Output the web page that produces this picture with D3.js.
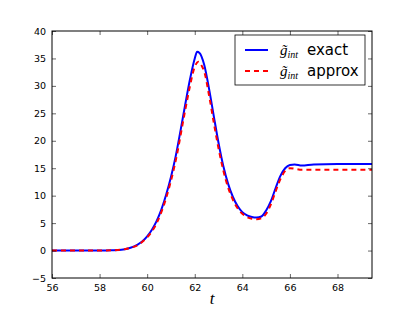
<!DOCTYPE html>
<html><head><meta charset="utf-8">
<script src="https://cdn.jsdelivr.net/npm/d3@7"></script>
<style>body{margin:0;background:#fff}svg{display:block}</style>
</head><body>
<script>
const tExact = [56,57,58,58.5,59,59.3,59.6,59.8,60.0,60.2,60.4,60.6,60.8,61.0,61.2,61.4,61.6,61.8,62.0,62.1,62.2,62.4,62.6,62.8,63.0,63.2,63.4,63.6,63.8,64.0,64.2,64.4,64.6,64.8,65.0,65.2,65.4,65.6,65.8,66.0,66.2,66.5,67.0,68.0,69.45];
const gExact = [0,0,0,0.05,0.2,0.5,1.1,1.7,2.6,3.8,5.4,7.5,10.2,13.4,17.2,21.8,26.6,31.2,35.0,36.2,36.0,33.8,29.5,24.5,19.6,15.4,12.2,9.8,8.1,7.0,6.4,6.1,6.0,6.2,7.3,9.0,11.4,13.6,15.0,15.6,15.7,15.5,15.7,15.75,15.75];
const tApprox = [56,57,58,58.5,59,59.3,59.6,59.8,60.0,60.4,60.8,61.2,61.6,61.8,62.0,62.15,62.3,62.4,62.6,62.8,63.0,63.2,63.4,63.6,63.8,64.0,64.2,64.4,64.6,64.8,65.0,65.2,65.4,65.6,65.8,66.0,66.2,66.5,67.0,69.45];
const gApprox = [0,0,0,0.05,0.2,0.5,1.0,1.6,2.4,5.0,9.6,16.4,25.6,30.0,33.5,34.4,33.6,32.6,28.3,23.3,18.6,14.6,11.5,9.3,7.7,6.7,6.1,5.8,5.7,5.9,6.7,8.4,10.8,13.0,14.5,15.0,14.9,14.7,14.7,14.7];
const xTicks = [56,58,60,62,64,66,68];
const yTicks = [-5,0,5,10,15,20,25,30,35,40];
const seriesLabels = ["exact","approx"];

const W = 413, H = 310;
const m = {l:52, r:41, t:31, b:32};
const svg = d3.select("body").append("svg").attr("width",W).attr("height",H);
const x = d3.scaleLinear().domain([56,69.45]).range([m.l, W-m.r]);
const y = d3.scaleLinear().domain([-5,40]).range([H-m.b, m.t]);
const font = "DejaVu Sans, sans-serif";

svg.append("clipPath").attr("id","c").append("rect")
  .attr("x",m.l).attr("y",m.t).attr("width",W-m.l-m.r).attr("height",H-m.t-m.b);

const line = d3.line().x(d=>x(d[0])).y(d=>y(d[1])).curve(d3.curveMonotoneX);
const plot = svg.append("g").attr("clip-path","url(#c)");
plot.append("path").datum(tExact.map((t,i)=>[t,gExact[i]])).attr("d",line)
  .attr("fill","none").attr("stroke","#0000ff").attr("stroke-width",2);
plot.append("path").datum(tApprox.map((t,i)=>[t,gApprox[i]])).attr("d",line)
  .attr("fill","none").attr("stroke","#ff0000").attr("stroke-width",2).attr("stroke-dasharray","5,4");

const ax = d3.axisBottom(x).tickValues(xTicks).tickSize(-4).tickPadding(6).tickFormat(d3.format("d"));
const axT = d3.axisTop(x).tickValues(xTicks).tickSize(-4).tickFormat("");
const ay = d3.axisLeft(y).tickValues(yTicks).tickSize(-4).tickPadding(6).tickFormat(d=>d<0?"\u2212"+(-d):d);
const ayR = d3.axisRight(y).tickValues(yTicks).tickSize(-4).tickFormat("");
function style(sel){
  sel.select(".domain").remove();
  sel.selectAll("line").attr("stroke","#000").attr("stroke-width",0.6);
  sel.selectAll("text").attr("font-family",font).attr("font-size",9.5).attr("fill","#000");
}
svg.append("g").attr("transform",`translate(0,${H-m.b})`).call(ax).call(style);
svg.append("g").attr("transform",`translate(0,${m.t})`).call(axT).call(style);
svg.append("g").attr("transform",`translate(${m.l},0)`).call(ay).call(style);
svg.append("g").attr("transform",`translate(${W-m.r},0)`).call(ayR).call(style);
svg.append("rect").attr("x",m.l).attr("y",m.t).attr("width",W-m.l-m.r).attr("height",H-m.t-m.b)
  .attr("fill","none").attr("stroke","#000").attr("stroke-width",1);

svg.append("text").attr("x",(m.l+W-m.r)/2).attr("y",H-6).attr("text-anchor","middle")
  .attr("font-family","Liberation Serif, serif").attr("font-style","italic").attr("font-size",17).text("t");

const lg = svg.append("g");
lg.append("rect").attr("x",235).attr("y",35).attr("width",130).attr("height",50)
  .attr("fill","#fff").attr("stroke","#000").attr("stroke-width",0.8);
const entries = [{c:"#0000ff",d:null,yy:50},{c:"#ff0000",d:"5,4",yy:71}];
entries.forEach((e,i)=>{
  lg.append("line").attr("x1",245).attr("x2",268).attr("y1",e.yy).attr("y2",e.yy)
    .attr("stroke",e.c).attr("stroke-width",2).attr("stroke-dasharray",e.d);
  const t = lg.append("text").attr("x",280).attr("y",e.yy+5).attr("font-size",15).attr("font-family",font);
  t.append("tspan").attr("font-family","Liberation Serif, serif").attr("font-style","italic").text("g\u0303");
  t.append("tspan").attr("font-family","Liberation Serif, serif").attr("font-style","italic")
    .attr("font-size",10).attr("dy",3).text("int");
  t.append("tspan").attr("x",307).attr("dy",-3).text(seriesLabels[i]);
});
</script>
</body></html>
